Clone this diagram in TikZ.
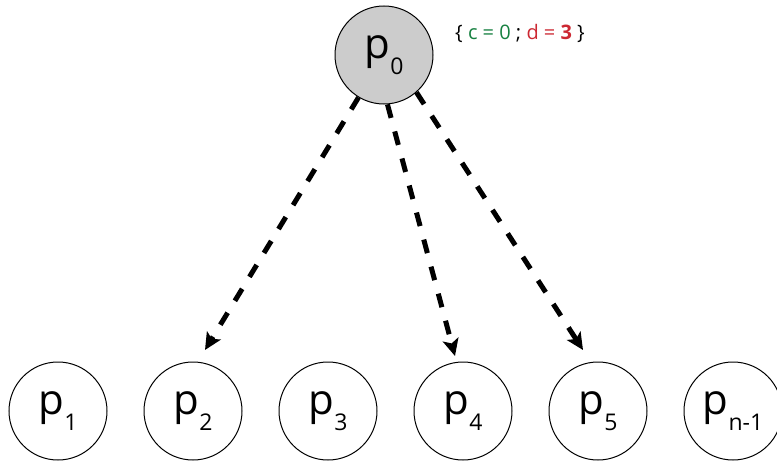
\documentclass[tikz,border=0pt]{standalone}
\usepackage{fontspec}
\setmainfont{Open Sans}
\usetikzlibrary{arrows.meta}
\definecolor{cgreen}{RGB}{22,128,64}
\definecolor{dred}{RGB}{204,40,50}
\definecolor{pgray}{RGB}{204,204,204}
\newcommand{\proc}[1]{p\raisebox{-16pt}{\fontsize{23}{23}\selectfont #1}}
\tikzset{
  procnode/.style={circle, draw=black, line width=1pt, minimum size=98pt,
    inner sep=0pt, font=\fontsize{42}{42}\selectfont},
  msgarrow/.style={line width=5pt, dash pattern=on 14pt off 14pt,
    -{Stealth[length=17pt, width=16pt, inset=4pt]}}
}
\begin{document}
\begin{tikzpicture}[x=1pt, y=-1pt]
  \useasboundingbox (0,0) rectangle (777,463);
  % initiator
  \node[procnode, fill=pgray] (p0) at (384,55) {\proc{0}};
  \node[anchor=center, font=\fontsize{20}{20}\selectfont] (state) at (520,33)
    {\{ \textcolor{cgreen}{c = 0} ; \textcolor{dred}{d = \textbf{3}} \}};
  % remaining processes
  \node[procnode] (p1) at (58,411) {\proc{1}};
  \node[procnode] (p2) at (193,411) {\proc{2}};
  \node[procnode] (p3) at (328,411) {\proc{3}};
  \node[procnode] (p4) at (463,411) {\proc{4}};
  \node[procnode] (p5) at (598,411) {\proc{5}};
  \node[procnode] (pn) at (733,411) {\proc{n-1}};
  % message ends, just above the receivers
  \coordinate (t2) at (205,350);
  \coordinate (t4) at (455,356);
  \coordinate (t5) at (583,350);
  \draw[msgarrow] (p0.-121) -- (t2);
  \draw[msgarrow] (p0.-86) -- (t4);
  \draw[msgarrow] (p0.-49) -- (t5);
\end{tikzpicture}
\end{document}
